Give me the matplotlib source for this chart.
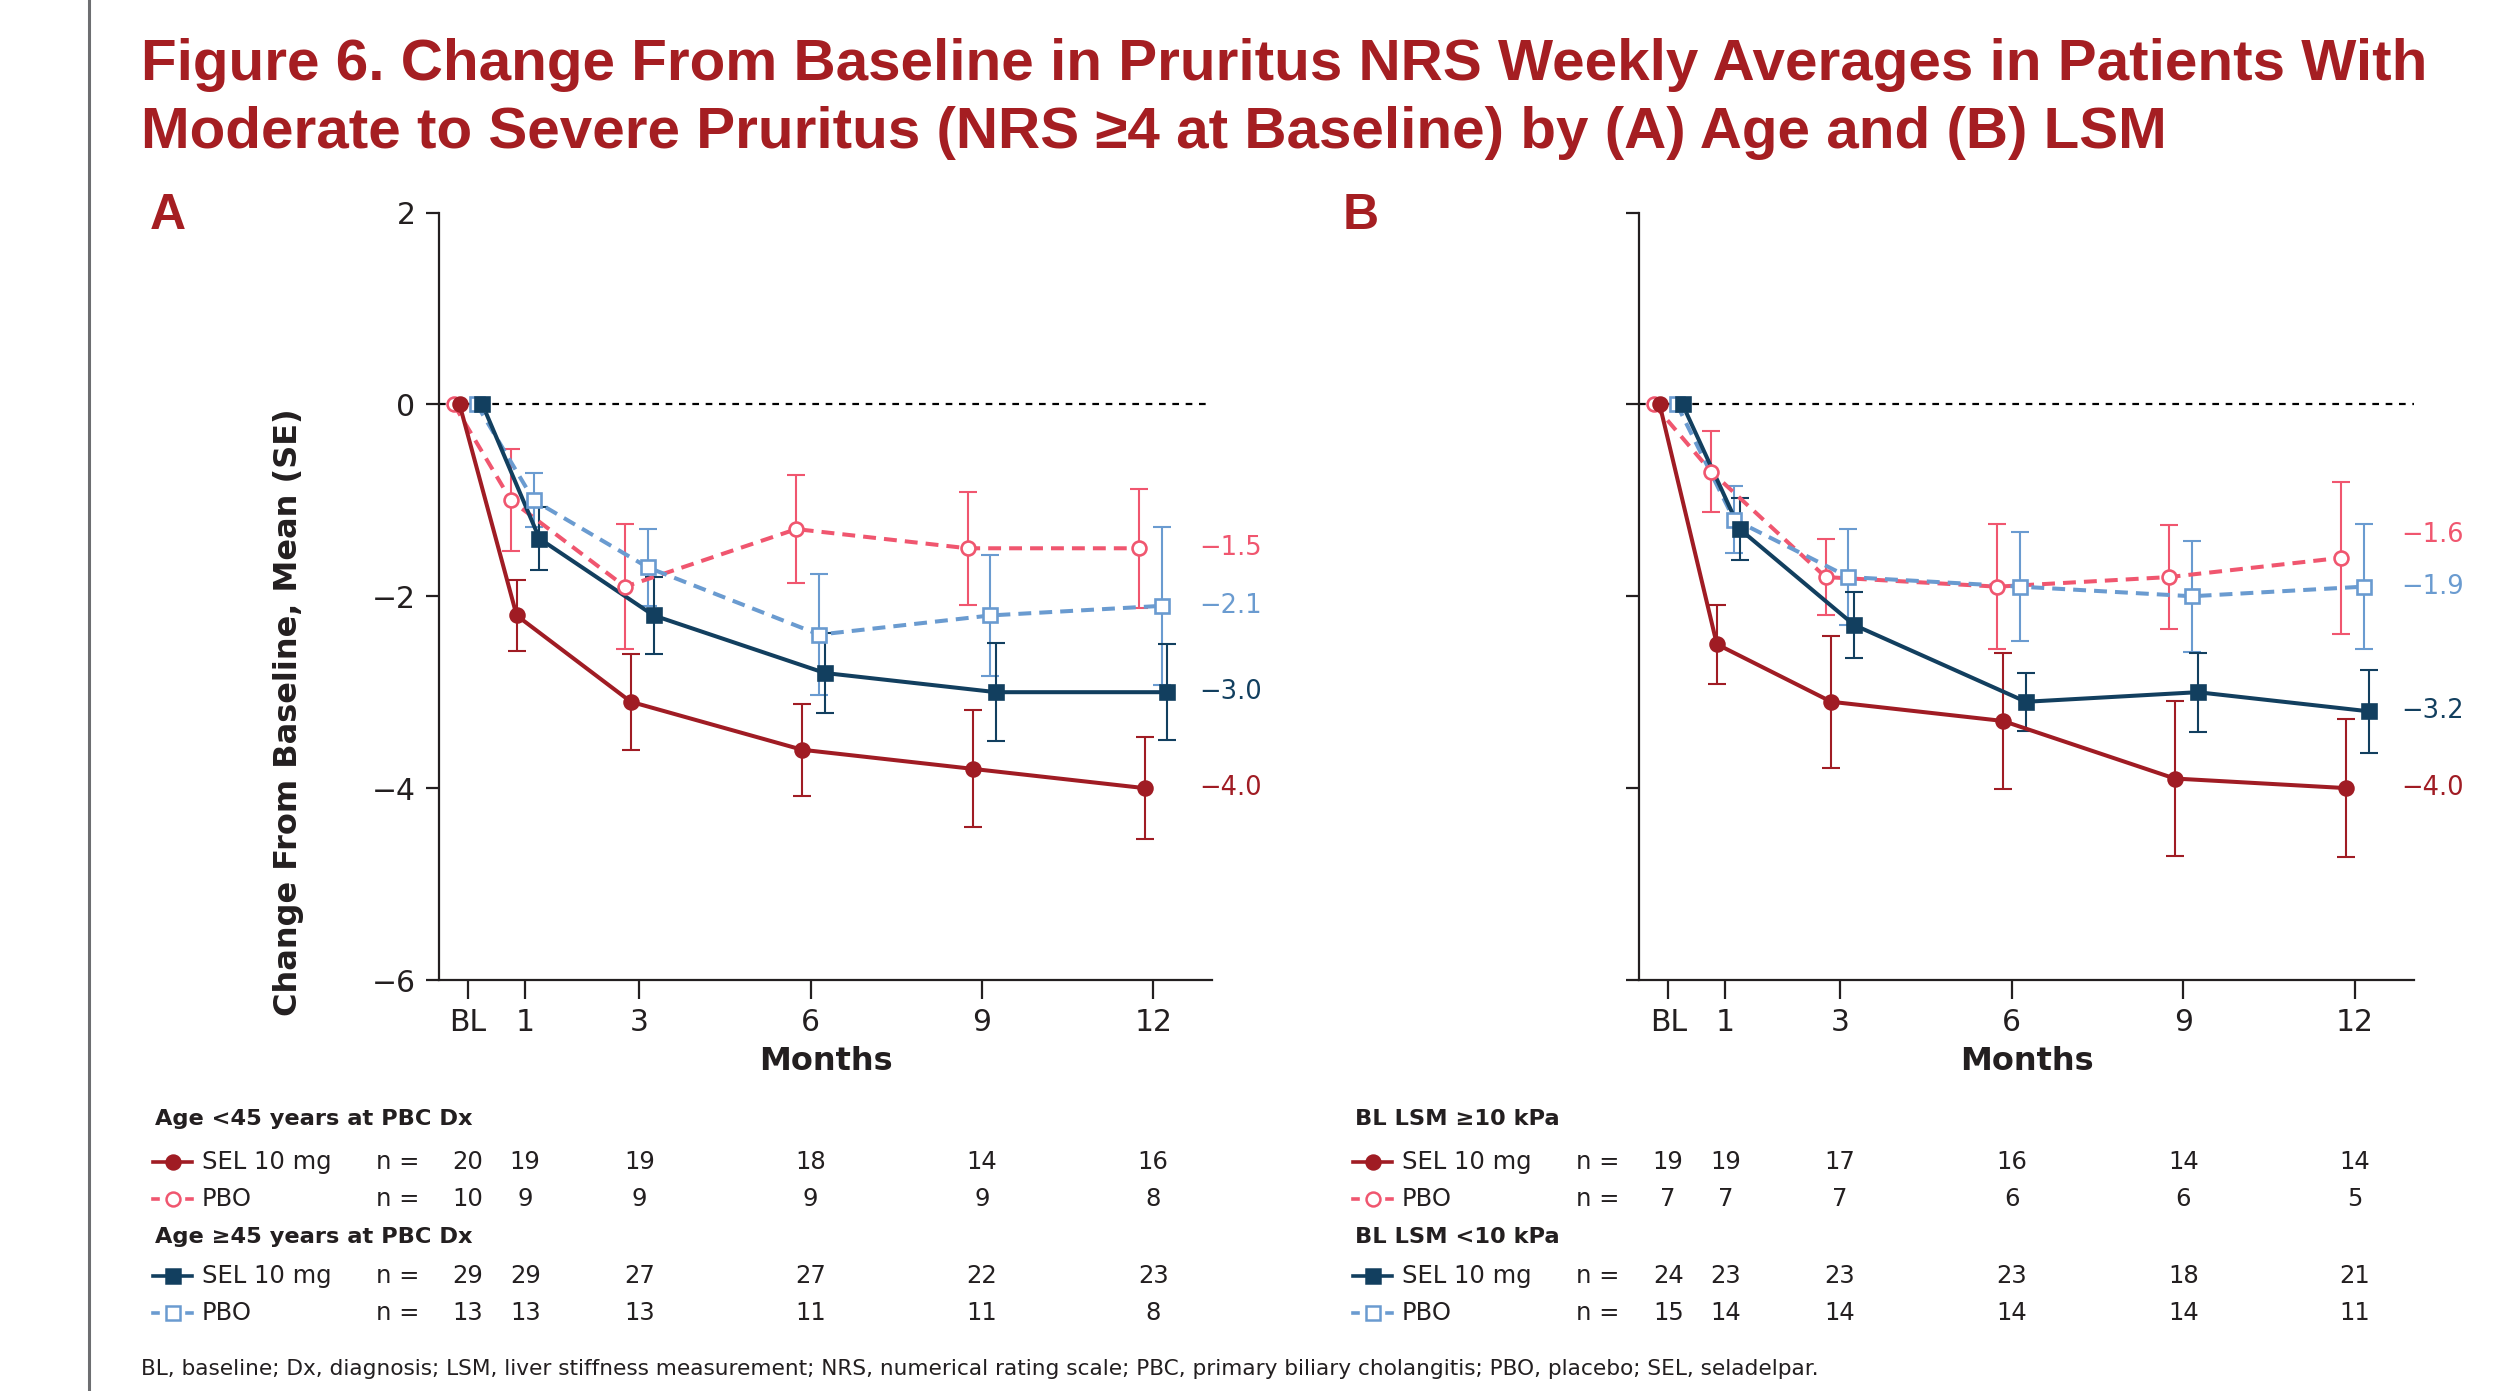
import matplotlib.pyplot as plt
from matplotlib.lines import Line2D
from matplotlib.transforms import blended_transform_factory

plt.rcParams['font.family'] = 'DejaVu Sans'

W, H = 2507, 1391

months = [0, 1, 3, 6, 9, 12]
month_labels = ['BL', '1', '3', '6', '9', '12']

# panel A: by age at PBC diagnosis
a_sel_lt45 = [0, -2.2, -3.1, -3.6, -3.8, -4.0]
a_sel_lt45_se = [0, 0.37, 0.50, 0.48, 0.61, 0.53]
a_pbo_lt45 = [0, -1.0, -1.9, -1.3, -1.5, -1.5]
a_pbo_lt45_se = [0, 0.53, 0.65, 0.56, 0.59, 0.62]
a_sel_ge45 = [0, -1.4, -2.2, -2.8, -3.0, -3.0]
a_sel_ge45_se = [0, 0.33, 0.40, 0.42, 0.51, 0.50]
a_pbo_ge45 = [0, -1.0, -1.7, -2.4, -2.2, -2.1]
a_pbo_ge45_se = [0, 0.28, 0.40, 0.63, 0.63, 0.82]

# panel B: by baseline LSM
b_sel_hi = [0, -2.5, -3.1, -3.3, -3.9, -4.0]
b_sel_hi_se = [0, 0.41, 0.69, 0.71, 0.81, 0.72]
b_pbo_hi = [0, -0.7, -1.8, -1.9, -1.8, -1.6]
b_pbo_hi_se = [0, 0.42, 0.40, 0.65, 0.54, 0.79]
b_sel_lo = [0, -1.3, -2.3, -3.1, -3.0, -3.2]
b_sel_lo_se = [0, 0.32, 0.34, 0.30, 0.41, 0.43]
b_pbo_lo = [0, -1.2, -1.8, -1.9, -2.0, -1.9]
b_pbo_lo_se = [0, 0.35, 0.50, 0.57, 0.58, 0.65]

# patients at each visit
n_a_sel_lt45 = [20, 19, 19, 18, 14, 16]
n_a_pbo_lt45 = [10, 9, 9, 9, 9, 8]
n_a_sel_ge45 = [29, 29, 27, 27, 22, 23]
n_a_pbo_ge45 = [13, 13, 13, 11, 11, 8]
n_b_sel_hi = [19, 19, 17, 16, 14, 14]
n_b_pbo_hi = [7, 7, 7, 6, 6, 5]
n_b_sel_lo = [24, 23, 23, 23, 18, 21]
n_b_pbo_lo = [15, 14, 14, 14, 14, 11]

DARKRED = '#a01c24'
PINK = '#f0566f'
NAVY = '#123f5f'
LBLUE = '#6a9bd0'
TXT = '#231f20'
TITLE = '#a51e22'

styles = {
    'sel_red': dict(color=DARKRED, marker='o', ms=10, mfc=DARKRED, ls='-', off=-0.15),
    'pbo_red': dict(color=PINK, marker='o', ms=10, mfc='white', ls='--', off=-0.25),
    'sel_blue': dict(color=NAVY, marker='s', ms=10.5, mfc=NAVY, ls='-', off=0.25),
    'pbo_blue': dict(color=LBLUE, marker='s', ms=10.5, mfc='white', ls='--', off=0.15),
}


def fx(px):
    return px / W


def fy(py):
    return 1 - py / H


fig = plt.figure(figsize=(W / 100, H / 100), dpi=100)

# grey rule on left edge
fig.add_artist(Line2D([fx(89), fx(89)], [0, 1], transform=fig.transFigure,
                      color='#6d6e71', lw=2.2))

fig.text(fx(141), fy(80), 'Figure 6. Change From Baseline in Pruritus NRS Weekly Averages in Patients With',
         color=TITLE, fontsize=42, fontweight='bold', family='Liberation Sans', va='baseline')
fig.text(fx(141), fy(148), 'Moderate to Severe Pruritus (NRS \u22654 at Baseline) by (A) Age and (B) LSM',
         color=TITLE, fontsize=42, fontweight='bold', family='Liberation Sans', va='baseline')


def draw_series(ax, y, se, st):
    x = [m + st['off'] for m in months]
    ax.plot(x, y, color=st['color'], ls=st['ls'], lw=2.9,
            dashes=(3.2, 2.0) if st['ls'] == '--' else (None, None), zorder=3)
    ax.errorbar(x[1:], y[1:], yerr=se[1:], fmt='none', ecolor=st['color'],
                elinewidth=1.5, capsize=6.5, capthick=1.5, zorder=2)
    ax.plot(x, y, ls='none', marker=st['marker'], ms=st['ms'], mfc=st['mfc'],
            mec=st['color'], mew=1.9, zorder=4)


def fmt(v):
    return f'{v:.1f}'.replace('-', '\u2212')


def setup_axes(rect, ylabels):
    ax = fig.add_axes(rect)
    ax.set_xlim(-0.51, 13.03)
    ax.set_ylim(-6, 2)
    for s in ['top', 'right']:
        ax.spines[s].set_visible(False)
    for s in ['left', 'bottom']:
        ax.spines[s].set_linewidth(1.6)
        ax.spines[s].set_color(TXT)
    ax.set_xticks(months)
    ax.set_xticklabels(month_labels)
    ax.set_yticks([2, 0, -2, -4, -6])
    if ylabels:
        ax.set_yticklabels(['2', '0', '\u22122', '\u22124', '\u22126'])
    else:
        ax.set_yticklabels([])
    ax.tick_params(axis='x', length=14, width=1.6, pad=6.5, labelsize=21.5, colors=TXT)
    ax.tick_params(axis='y', length=9.5, width=1.6, pad=7.5, labelsize=21.5, colors=TXT)
    ax.axhline(0, color='black', lw=1.6, dashes=(3, 3), zorder=1)
    return ax


def end_labels(ax, items):
    for val, ypos, col in items:
        ax.text(12.8, ypos, fmt(val), color=col, fontsize=18.5, va='center', ha='left',
                clip_on=False)


axA = setup_axes([fx(439), fy(980), fx(1212) - fx(439), (980 - 212.5) / H], True)
draw_series(axA, a_pbo_lt45, a_pbo_lt45_se, styles['pbo_red'])
draw_series(axA, a_pbo_ge45, a_pbo_ge45_se, styles['pbo_blue'])
draw_series(axA, a_sel_ge45, a_sel_ge45_se, styles['sel_blue'])
draw_series(axA, a_sel_lt45, a_sel_lt45_se, styles['sel_red'])
end_labels(axA, [(a_pbo_lt45[-1], a_pbo_lt45[-1], PINK),
                 (a_pbo_ge45[-1], a_pbo_ge45[-1], LBLUE),
                 (a_sel_ge45[-1], a_sel_ge45[-1], NAVY),
                 (a_sel_lt45[-1], a_sel_lt45[-1], DARKRED)])

axB = setup_axes([fx(1639), fy(980), fx(2414) - fx(1639), (980 - 212.5) / H], False)
draw_series(axB, b_pbo_hi, b_pbo_hi_se, styles['pbo_red'])
draw_series(axB, b_pbo_lo, b_pbo_lo_se, styles['pbo_blue'])
draw_series(axB, b_sel_lo, b_sel_lo_se, styles['sel_blue'])
draw_series(axB, b_sel_hi, b_sel_hi_se, styles['sel_red'])
end_labels(axB, [(b_pbo_hi[-1], -1.36, PINK),
                 (b_pbo_lo[-1], b_pbo_lo[-1], LBLUE),
                 (b_sel_lo[-1], b_sel_lo[-1], NAVY),
                 (b_sel_hi[-1], b_sel_hi[-1], DARKRED)])

# panel letters and axis titles
fig.text(fx(150), fy(229), 'A', color=TITLE, fontsize=36, fontweight='bold',
         family='Liberation Sans', va='baseline')
fig.text(fx(1343), fy(229), 'B', color=TITLE, fontsize=36, fontweight='bold',
         family='Liberation Sans', va='baseline')
fig.text(fx(288), fy(712), 'Change From Baseline, Mean (SE)', rotation=90, fontsize=23,
         fontweight='bold', color=TXT, ha='center', va='center')
for ax in (axA, axB):
    ax.text(0.5, fy(1062), 'Months', transform=blended_transform_factory(ax.transAxes, fig.transFigure),
            fontsize=23, fontweight='bold', color=TXT, ha='center', va='center')


# n-at-risk tables
def legend_icon(x0, y, st):
    yy = fy(y)
    if st['ls'] == '-':
        fig.add_artist(Line2D([fx(x0), fx(x0 + 39)], [yy, yy], transform=fig.transFigure,
                              color=st['color'], lw=2.6))
    else:
        fig.add_artist(Line2D([fx(x0), fx(x0 + 5)], [yy, yy], transform=fig.transFigure,
                              color=st['color'], lw=2.6))
        fig.add_artist(Line2D([fx(x0 + 34), fx(x0 + 39)], [yy, yy], transform=fig.transFigure,
                              color=st['color'], lw=2.6))
    fig.add_artist(Line2D([fx(x0 + 19.5)], [yy], transform=fig.transFigure, ls='none',
                          marker=st['marker'], ms=st['ms'], mfc=st['mfc'], mec=st['color'], mew=1.8))


def table(ax, x0, headers, rows):
    tr = blended_transform_factory(ax.transData, fig.transFigure)
    row_y = [(1119, 1162, 1199), (1237, 1276, 1313)]
    for (hdr, (r1, r2)), (yh, y1, y2) in zip(zip(headers, rows), row_y):
        fig.text(fx(x0), fy(yh), hdr, fontsize=16.2, fontweight='bold', color=TXT, va='center')
        for (name, st, ns), yr in zip((r1, r2), (y1, y2)):
            legend_icon(x0 - 2, yr, st)
            fig.text(fx(x0 + 47), fy(yr), name, fontsize=17.5, color=TXT, va='center')
            fig.text(fx(x0 + 243), fy(yr), 'n =', fontsize=17.5, color=TXT, va='center', ha='center')
            for m, n in zip(months, ns):
                ax.text(m, fy(yr), str(n), transform=tr, fontsize=17.5, color=TXT,
                        va='center', ha='center')


table(axA, 155, ['Age <45 years at PBC Dx', 'Age \u226545 years at PBC Dx'],
      [(('SEL 10 mg', styles['sel_red'], n_a_sel_lt45), ('PBO', styles['pbo_red'], n_a_pbo_lt45)),
       (('SEL 10 mg', styles['sel_blue'], n_a_sel_ge45), ('PBO', styles['pbo_blue'], n_a_pbo_ge45))])
table(axB, 1355, ['BL LSM \u226510 kPa', 'BL LSM <10 kPa'],
      [(('SEL 10 mg', styles['sel_red'], n_b_sel_hi), ('PBO', styles['pbo_red'], n_b_pbo_hi)),
       (('SEL 10 mg', styles['sel_blue'], n_b_sel_lo), ('PBO', styles['pbo_blue'], n_b_pbo_lo))])

fig.text(fx(141), fy(1369), 'BL, baseline; Dx, diagnosis; LSM, liver stiffness measurement; NRS, numerical '
         'rating scale; PBC, primary biliary cholangitis; PBO, placebo; SEL, seladelpar.',
         fontsize=15.6, color=TXT, va='center')

fig.savefig('out.png', dpi=100)
